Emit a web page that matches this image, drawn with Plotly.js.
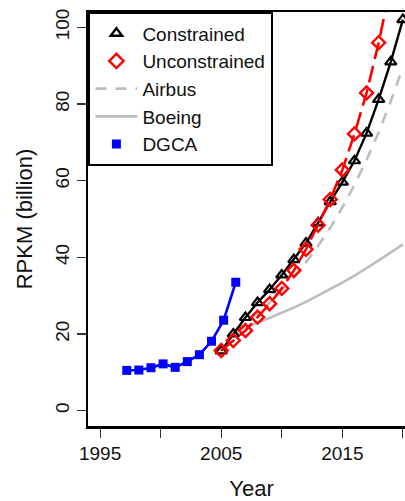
<!DOCTYPE html>
<html>
<head>
<meta charset="utf-8">
<script src="https://cdn.plot.ly/plotly-3.0.1.min.js"></script>
<style>
html, body { margin: 0; padding: 0; overflow: hidden; background: #fff; }
#chart { width: 430px; height: 501px; }
</style>
</head>
<body>
<div id="chart"></div>
<script>
// ---- data ----
const dgcaYears = [1997.2, 1998.2, 1999.2, 2000.2, 2001.2, 2002.2, 2003.2, 2004.2, 2005.2, 2006.2];
const dgcaValues = [10.5, 10.6, 11.2, 12.2, 11.3, 12.8, 14.6, 18.1, 23.6, 33.5];

const constrainedYears = [2005, 2006, 2007, 2008, 2009, 2010, 2011, 2012, 2013, 2014, 2015, 2016, 2017, 2018, 2019, 2020];
const constrainedValues = [15.6, 20.0, 24.3, 28.2, 31.6, 35.4, 39.4, 43.7, 49.0, 54.5, 59.6, 65.2, 72.4, 81.2, 91.0, 102.0];

const unconstrainedYears = [2005, 2006, 2007, 2008, 2009, 2010, 2011, 2012, 2013, 2014, 2015, 2016, 2017, 2018, 2019];
const unconstrainedValues = [15.7, 18.3, 20.9, 24.4, 27.9, 31.9, 36.6, 42.1, 48.4, 55.1, 62.8, 72.2, 82.9, 96.0, 111.0];

const airbusYears = [2006, 2007, 2008, 2009, 2010, 2011, 2012, 2013, 2014, 2015, 2016, 2017, 2018, 2019, 2020];
const airbusValues = [20.6, 22.9, 25.4, 28.2, 31.4, 34.8, 38.7, 43.0, 47.7, 53.0, 58.9, 65.4, 72.6, 80.7, 89.6];

const boeingYears = [2006, 2007, 2008, 2009, 2010, 2011, 2012, 2013, 2014, 2015, 2016, 2017, 2018, 2019, 2020];
const boeingValues = [20.6, 21.7, 22.9, 24.2, 25.5, 26.9, 28.4, 30.0, 31.6, 33.4, 35.2, 37.1, 39.2, 41.3, 43.4];

const xTickVals = [1995, 2000, 2005, 2010, 2015, 2020];
const xTickText = ['1995', '', '2005', '', '2015', ''];
const yTickVals = [0, 20, 40, 60, 80, 100];
const yTickText = ['0', '20', '40', '60', '80', '100'];

const seriesNames = ['Constrained', 'Unconstrained', 'Airbus', 'Boeing', 'DGCA'];

// ---- styles ----
const BLACK = '#000000', RED = '#ff0000', GRAY = '#bdbdbd', BLUE = '#0000ff';
const FONT = 'Liberation Sans, Arial, Helvetica, sans-serif';

const traces = [
  { x: boeingYears, y: boeingValues, mode: 'lines', line: { color: GRAY, width: 2.6 }, showlegend: false },
  { x: airbusYears, y: airbusValues, mode: 'lines', line: { color: GRAY, width: 2.6, dash: '11px,9px' }, showlegend: false },
  { x: constrainedYears, y: constrainedValues, mode: 'lines+markers', line: { color: BLACK, width: 2.4 },
    marker: { symbol: 'triangle-up-open', size: 10, color: BLACK, line: { width: 2.2, color: BLACK } }, showlegend: false },
  { x: unconstrainedYears, y: unconstrainedValues, mode: 'lines+markers', line: { color: RED, width: 2.6, dash: '17px,7px' },
    marker: { symbol: 'diamond-open', size: 10, color: RED, line: { width: 2.4, color: RED } }, showlegend: false },
  { x: dgcaYears, y: dgcaValues, mode: 'lines+markers', line: { color: BLUE, width: 2.6 },
    marker: { symbol: 'square', size: 9, color: BLUE }, showlegend: false },
  // legend entries
  { x: [null], y: [null], name: seriesNames[0], mode: 'markers',
    marker: { symbol: 'triangle-up-open', size: 10, color: BLACK, line: { width: 2.4, color: BLACK } } },
  { x: [null], y: [null], name: seriesNames[1], mode: 'markers',
    marker: { symbol: 'diamond-open', size: 11, color: RED, line: { width: 2.4, color: RED } } },
  { x: [null], y: [null], name: seriesNames[2], mode: 'lines', line: { color: GRAY, width: 2.6, dash: '11px,9px' } },
  { x: [null], y: [null], name: seriesNames[3], mode: 'lines', line: { color: GRAY, width: 2.6 } },
  { x: [null], y: [null], name: seriesNames[4], mode: 'markers', marker: { symbol: 'square', size: 9, color: BLUE } }
];

const layout = {
  width: 430, height: 501,
  margin: { l: 87.5, r: 15, t: 12, b: 75 },
  paper_bgcolor: '#fff', plot_bgcolor: '#fff',
  font: { family: FONT, size: 19, color: '#111' },
  showlegend: true,
  legend: {
    x: 0, y: 1, xanchor: 'left', yanchor: 'top',
    bgcolor: '#fff', bordercolor: '#000', borderwidth: 2.4,
    font: { family: FONT, size: 19, color: '#111' },
    itemwidth: 42, tracegroupgap: 0
  },
  xaxis: {
    range: [1994, 2021], showgrid: false, zeroline: false,
    showline: true, linecolor: '#000', linewidth: 2.5, mirror: true,
    ticks: 'outside', ticklen: 9, tickwidth: 1.2, tickcolor: '#333',
    tickvals: xTickVals, ticktext: xTickText,
    tickfont: { family: FONT, size: 19, color: '#111' },
    title: { text: 'Year', font: { family: FONT, size: 22, color: '#111' }, standoff: 19 }
  },
  yaxis: {
    range: [-4, 104], showgrid: false, zeroline: false,
    showline: true, linecolor: '#000', linewidth: 2.5, mirror: true,
    ticks: 'outside', ticklen: 9, tickwidth: 1.2, tickcolor: '#333',
    tickvals: yTickVals, ticktext: yTickText, tickangle: -90,
    tickfont: { family: FONT, size: 19, color: '#111' },
    title: { text: 'RPKM (billion)', font: { family: FONT, size: 22, color: '#111' }, standoff: 13 }
  }
};

Plotly.newPlot('chart', traces, layout, { displayModeBar: false, staticPlot: true });
</script>
</body>
</html>
